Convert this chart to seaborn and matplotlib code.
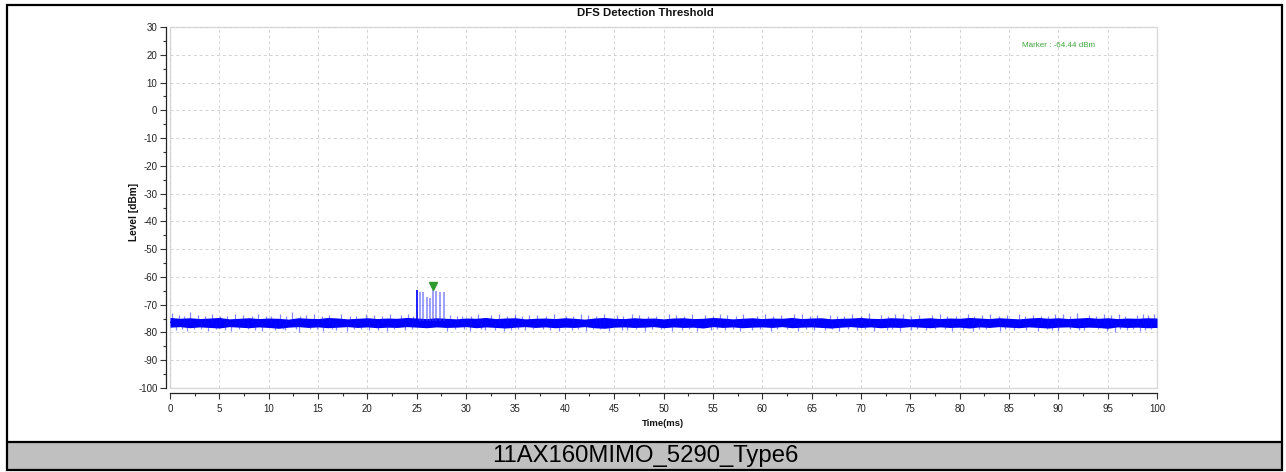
import numpy as np
import pandas as pd
import matplotlib
matplotlib.use("Agg")
import matplotlib.pyplot as plt
import seaborn as sns
from matplotlib import font_manager as fm
from matplotlib import transforms as mtrans
from matplotlib.patches import Rectangle
from matplotlib.lines import Line2D
from matplotlib.ticker import MultipleLocator

# ---------------- data ----------------
time_ms = list(range(0, 101))  # 1-ms grid for the noise band envelope

core_hi = [-74.6, -74.9, -74.7, -75.0, -74.8, -74.6, -75.1, -74.9, -74.7, -75.0,
           -74.8, -74.9, -75.2, -74.7, -74.9, -75.0, -74.6, -74.8, -75.1, -74.9,
           -74.7, -75.0, -74.8, -74.9, -74.6, -74.8, -75.0, -74.7, -74.9, -75.1,
           -74.8, -74.9, -74.6, -75.0, -74.8, -74.7, -75.1, -74.9, -74.8, -75.0,
           -74.7, -74.9, -75.2, -74.8, -74.6, -74.9, -75.0, -74.7, -74.9, -74.8,
           -75.1, -74.8, -74.7, -75.0, -74.9, -74.6, -74.8, -75.1, -74.9, -74.7,
           -75.0, -74.8, -74.9, -74.6, -75.0, -74.8, -74.7, -75.1, -74.9, -74.8,
           -74.6, -74.9, -75.0, -74.7, -74.8, -75.1, -74.9, -74.7, -75.0, -74.8,
           -74.9, -74.6, -74.8, -75.0, -74.7, -74.9, -75.1, -74.8, -74.6, -74.9,
           -74.7, -75.0, -74.8, -74.6, -74.9, -74.7, -75.0, -74.8, -74.9, -74.7, -74.8]

core_lo = [-78.1, -77.9, -78.3, -78.0, -78.2, -78.4, -77.9, -78.1, -78.3, -78.0,
           -78.2, -78.5, -78.1, -77.9, -78.2, -78.0, -78.3, -78.1, -77.9, -78.2,
           -78.0, -78.3, -78.1, -78.2, -77.9, -78.1, -78.3, -78.0, -78.2, -78.1,
           -77.9, -78.3, -78.0, -78.2, -78.4, -78.1, -77.9, -78.2, -78.0, -78.3,
           -78.1, -78.2, -77.9, -78.3, -78.5, -78.1, -78.0, -78.2, -78.1, -77.9,
           -78.3, -78.0, -78.2, -78.1, -78.4, -77.9, -78.2, -78.0, -78.3, -78.1,
           -78.0, -78.2, -77.9, -78.3, -78.1, -78.0, -78.2, -78.4, -78.1, -77.9,
           -78.2, -78.0, -78.3, -78.1, -78.2, -77.9, -78.1, -78.3, -78.0, -78.2,
           -78.1, -78.4, -78.0, -78.2, -77.9, -78.1, -78.3, -78.0, -78.2, -78.4,
           -78.1, -78.0, -78.3, -78.1, -78.2, -78.5, -78.0, -78.2, -78.1, -78.3, -78.2]

spike_up_t = [0.2, 0.9, 1.4, 2.0, 2.8, 3.5, 4.3, 5.1, 5.8, 6.6, 7.4, 8.3, 8.9, 9.7,
              10.2, 11.1, 11.8, 12.4, 13.2, 13.8, 14.6, 15.4, 16.1, 17.3, 18.2,
              18.8, 19.9, 20.7, 21.5, 22.3, 23.4, 24.1, 24.6, 28.4, 29.1, 29.6,
              30.5, 31.2, 32.5, 33.3, 34.1, 35.0, 35.7, 36.4, 37.2, 38.1, 38.9,
              40.1, 40.8, 41.6, 42.4, 43.2, 44.0, 45.3, 45.9, 46.8, 47.5, 48.4,
              49.2, 50.6, 51.3, 52.1, 52.9, 54.2, 55.0, 55.7, 56.4, 57.3, 58.1,
              59.5, 60.3, 61.1, 61.9, 63.2, 64.0, 64.8, 65.6, 66.9, 67.6, 68.3,
              69.1, 70.0, 70.8, 72.0, 72.7, 73.5, 74.3, 75.1, 75.9, 77.2, 78.0,
              78.7, 79.6, 80.9, 81.5, 82.3, 83.1, 84.0, 84.8, 86.0, 86.6, 87.4,
              88.2, 89.0, 89.7, 90.5, 91.2, 91.9, 93.1, 93.8, 94.6, 95.3, 96.1,
              96.8, 98.0, 98.6, 99.1, 99.7]
spike_up_v = [-72.9, -73.8, -74.1, -72.8, -73.6, -74.0, -73.4, -73.9, -74.2, -73.2,
              -73.7, -74.0, -73.5, -74.1, -73.9, -73.3, -74.0, -72.6, -74.2, -73.8,
              -73.4, -74.1, -73.6, -73.2, -73.9, -74.0, -73.5, -73.7, -74.1, -73.3,
              -73.8, -73.4, -74.0, -73.6, -74.2, -73.9, -74.0, -73.3, -73.7, -73.5,
              -74.1, -73.2, -73.9, -73.8, -73.6, -74.2, -73.4, -73.9, -74.0, -73.3,
              -73.7, -74.1, -73.5, -73.8, -74.0, -73.2, -73.6, -74.1, -73.9, -73.4,
              -73.7, -74.0, -73.3, -73.8, -74.2, -73.5, -73.6, -74.0, -73.2, -73.9,
              -73.4, -74.1, -73.7, -73.5, -73.3, -74.0, -73.8, -73.6, -74.2, -73.9,
              -73.4, -74.1, -72.9, -73.7, -74.0, -73.5, -73.3, -74.1, -73.8, -73.6,
              -73.2, -74.0, -73.9, -73.4, -74.2, -73.7, -73.5, -74.0, -73.8, -73.3,
              -74.1, -73.6, -73.9, -74.0, -73.2, -73.4, -74.1, -73.0, -73.7, -74.0,
              -73.5, -73.8, -73.3, -74.2, -73.6, -73.4, -73.7, -73.5]

spike_dn_t = [0.6, 1.2, 1.7, 2.4, 3.1, 3.9, 4.7, 5.6, 6.2, 7.0, 7.9, 8.6, 9.3,
              10.6, 11.4, 11.7, 12.8, 13.1, 14.2, 14.9, 15.5, 16.4, 16.8, 17.9,
              18.6, 19.4, 20.2, 21.1, 22.0, 22.7, 23.8, 24.5, 28.1, 28.9, 29.8,
              30.4, 31.5, 31.9, 32.9, 33.8, 34.5, 35.3, 36.0, 36.8, 37.8, 38.5,
              39.4, 40.7, 41.3, 42.1, 42.9, 43.6, 44.5, 45.8, 46.3, 47.2, 48.1,
              48.8, 49.7, 50.9, 51.9, 52.6, 53.4, 54.8, 55.4, 56.2, 57.0, 57.8,
              59.0, 59.8, 60.9, 61.5, 62.5, 63.6, 64.4, 65.2, 66.4, 67.1, 67.8,
              68.7, 69.6, 70.4, 71.3, 72.6, 73.2, 74.0, 75.1, 75.7, 76.6, 77.5,
              78.5, 79.2, 80.3, 81.4, 82.0, 82.7, 84.1, 84.6, 85.5, 86.7, 87.9,
              88.9, 89.4, 90.0, 91.2, 92.1, 92.6, 94.0, 94.9, 95.7, 96.3, 97.0,
              97.6, 98.3, 98.8, 99.4]
spike_dn_v = [-79.0, -78.7, -79.4, -78.8, -78.9, -79.6, -78.7, -79.1, -79.3, -78.8,
              -78.8, -79.0, -79.5, -79.0, -78.7, -79.2, -78.9, -79.7, -78.9, -78.7,
              -79.3, -78.8, -79.1, -79.5, -78.7, -78.8, -79.0, -79.2, -79.4, -78.8,
              -79.0, -78.7, -79.3, -78.9, -78.8, -79.6, -78.7, -79.1, -79.0, -79.4,
              -79.0, -78.8, -79.2, -78.7, -78.8, -79.0, -79.5, -79.1, -78.7, -79.3,
              -78.9, -78.8, -79.4, -79.2, -79.0, -78.7, -79.6, -78.9, -78.9, -79.3,
              -79.1, -78.7, -79.4, -79.0, -78.8, -79.2, -78.8, -79.5, -79.1, -78.7,
              -79.3, -78.9, -78.9, -79.4, -78.7, -79.2, -79.0, -78.8, -79.6, -78.9,
              -79.1, -78.7, -79.3, -79.1, -78.8, -79.4, -79.0, -78.7, -79.2, -78.9,
              -78.8, -79.5, -79.0, -79.3, -78.7, -78.9, -79.4, -78.8, -79.2, -79.0,
              -79.6, -78.7, -79.1, -79.3, -78.8, -79.2, -79.0, -78.7, -79.4, -79.8,
              -78.9, -79.2, -78.8, -79.3, -79.1, -78.9]

pulse_t = [25.0, 25.3, 25.6, 26.0, 26.3, 26.67, 26.97, 27.36, 27.73]
pulse_v = [-64.7, -65.4, -65.4, -67.1, -67.5, -64.6, -65.1, -65.3, -65.5]
pulse_base = -76.0

marker_t = 26.67
marker_v = -64.44

title = "DFS Detection Threshold"
xlabel = "Time(ms)"
ylabel = "Level [dBm]"
caption = "11AX160MIMO_5290_Type6"
x_ticks = list(range(0, 101, 5))
y_ticks = list(range(-100, 31, 10))

# ---------------- style ----------------
sns.set_theme(style="white")


def has_font(name):
    try:
        fm.findfont(fm.FontProperties(family=name), fallback_to_default=False)
        return True
    except Exception:
        return False


NARROW = "Liberation Sans Narrow" if has_font("Liberation Sans Narrow") else "Liberation Sans"
plt.rcParams["font.family"] = [NARROW, "DejaVu Sans"]
plt.rcParams["axes.unicode_minus"] = False

W, H = 1286, 472
fig = plt.figure(figsize=(W / 100, H / 100), dpi=100)
fig.patch.set_facecolor("white")

# axes in pixel geometry
L, R, T, B = 170, 1157, 27, 388
ax = fig.add_axes([L / W, 1 - B / H, (R - L) / W, (B - T) / H])
ax.set_facecolor("white")

# noise band via seaborn (min-max interval of the envelope)
df = pd.DataFrame({
    "t": time_ms + time_ms,
    "level": core_hi + core_lo,
})
sns.lineplot(data=df, x="t", y="level", estimator="mean", errorbar=("pi", 100),
             color="#0000ff", linewidth=0.8, err_kws={"alpha": 1.0, "linewidth": 0},
             ax=ax, legend=False)

n_up = min(len(spike_up_t), len(spike_up_v))
n_dn = min(len(spike_dn_t), len(spike_dn_v))
mid = (np.array(core_hi) + np.array(core_lo)) / 2
ax.vlines(spike_up_t[:n_up], np.interp(spike_up_t[:n_up], time_ms, mid), spike_up_v[:n_up],
          color="#1010ff", linewidth=0.9, alpha=0.5)
ax.vlines(spike_dn_t[:n_dn], spike_dn_v[:n_dn], np.interp(spike_dn_t[:n_dn], time_ms, mid),
          color="#1010ff", linewidth=0.9, alpha=0.5)

# pulses
ax.vlines(pulse_t[:1], pulse_base, pulse_v[:1], color="#0000ff", linewidth=1.3, alpha=0.95)
ax.vlines(pulse_t[1:], pulse_base, pulse_v[1:], color="#4040ff", linewidth=1.3, alpha=0.55)

# marker triangle (tip at the marker value)
mk_tr = mtrans.offset_copy(ax.transData, fig=fig, x=0, y=3, units="dots")
ax.plot([marker_t], [marker_v], marker="v", markersize=5.5, color="#2e9a2e",
        linestyle="none", transform=mk_tr, zorder=5)
ax.text(90.0, 23.5, f"Marker : {marker_v:.2f} dBm", color="#3fa53f", fontsize=5.8,
        ha="center", va="center")

# axes ranges, ticks, grid
ax.set_xlim(0, 100)
ax.set_ylim(-100, 30)
ax.set_xticks(x_ticks)
ax.set_yticks(y_ticks)
ax.xaxis.set_minor_locator(MultipleLocator(2.5))
ax.yaxis.set_minor_locator(MultipleLocator(5))
ax.grid(True, which="major", color="#d2d2d2", linestyle=(0, (3, 3)), linewidth=0.7)
ax.set_axisbelow(True)
ax.tick_params(axis="both", which="major", direction="out", length=4, width=0.8,
               color="#333333", labelsize=7, labelcolor="#222222", pad=2,
               bottom=True, left=True)
ax.tick_params(axis="both", which="minor", direction="out", length=2.2, width=0.8,
               color="#333333", bottom=True, left=True)
ax.tick_params(axis="x", which="major", pad=4)

for s in ["top", "right"]:
    ax.spines[s].set_visible(False)
ax.spines["left"].set_position(("outward", 3))
ax.spines["bottom"].set_position(("outward", 3.6))
for s in ["left", "bottom"]:
    ax.spines[s].set_color("#222222")
    ax.spines[s].set_linewidth(0.9)

# light plot-area frame
ax.add_patch(Rectangle((0, 0), 1, 1, transform=ax.transAxes, fill=False,
                       edgecolor="#d9d9d9", linewidth=1.0, clip_on=False, zorder=0.5))

ax.set_xlabel("")
ax.set_ylabel("")

# titles / labels in figure pixel positions
fig.text(645 / W, 1 - 12.5 / H, title, ha="center", va="center", fontsize=8.2,
         fontweight="bold", color="#111111")
fig.text(663 / W, 1 - 423 / H, xlabel, ha="center", va="center", fontsize=6.8,
         fontweight="bold", color="#111111")
fig.text(134 / W, 1 - 212 / H, ylabel, ha="center", va="center", fontsize=7.3,
         fontweight="bold", rotation=90, color="#111111")

# outer frame and caption band
fig.patches.append(Rectangle((7 / W, 1 - 470 / H), (1282 - 7) / W, (470 - 442) / H,
                             transform=fig.transFigure, facecolor="#c0c0c0",
                             edgecolor="none", zorder=1))
fig.patches.append(Rectangle((7 / W, 1 - 470 / H), (1282 - 7) / W, (470 - 5) / H,
                             transform=fig.transFigure, fill=False,
                             edgecolor="black", linewidth=1.6, zorder=3))
fig.lines.append(Line2D([7 / W, 1282 / W], [1 - 442 / H, 1 - 442 / H],
                        transform=fig.transFigure, color="black", linewidth=1.6, zorder=3))
fig.text(645 / W, 1 - 456 / H, caption, ha="center", va="center", fontsize=17.2,
         family=["Liberation Sans", "DejaVu Sans"], color="black", zorder=4)

fig.savefig("out.png", dpi=100, facecolor="white")
